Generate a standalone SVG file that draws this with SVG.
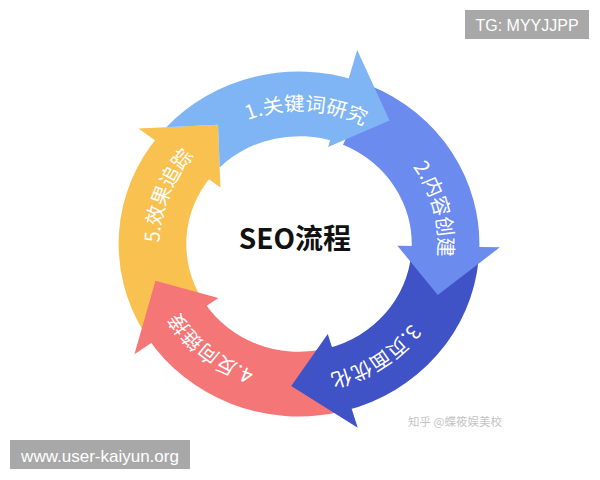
<svg xmlns="http://www.w3.org/2000/svg" xmlns:xlink="http://www.w3.org/1999/xlink" width="600" height="480" viewBox="0 0 600 480">
  <style>
    .lbl { fill: #ffffff; font-family: "Noto Sans CJK SC", "Noto Sans", sans-serif; font-size: 20px; }
    .c1 { fill: #7fb5f5; }
    .c2 { fill: #6b8bef; }
    .c3 { fill: #3f52c6; }
    .c4 { fill: #f47677; }
    .c5 { fill: #f8c150; }
    .tag { fill: #a8a8a8; }
    .tagtxt { fill: #ffffff; font-family: "Liberation Sans", Arial, sans-serif; }
  </style>
  <defs>
    <path id="arrow" d="M -163.18 -65.93 A 176 176 0 0 1 6.14 -175.89 L 3.84 -109.93 A 110 110 0 0 0 -101.99 -41.21 Z M 0 -196 L 49.59 -136.26 L 0 -96 Z"/>
    <path id="arrowNotched" d="M -161.23 -70.59 A 176 176 0 0 1 0 -176 L 0 -110 A 110 110 0 0 0 -98.63 -48.70 L -114.27 -89.27 Z M -10.78 -205.72 L 42.45 -148.03 L -5.39 -102.86 Z"/>
    <path id="lblPath" d="M -134.33 -21.27 A 136 136 0 0 1 102.64 -89.22" fill="none"/>
  </defs>
  <rect width="600" height="480" fill="#ffffff"/>
  <g id="ring" transform="translate(299,244) scale(1.025,0.98)">
    <g id="node5" transform="rotate(307)">
      <use xlink:href="#arrow" href="#arrow" class="c5"/>
      <text class="lbl"><textPath xlink:href="#lblPath" href="#lblPath" startOffset="50%" text-anchor="middle">5.效果追踪</textPath></text>
    </g>
    <g id="node4" transform="rotate(235)">
      <use xlink:href="#arrow" href="#arrow" class="c4"/>
      <text class="lbl"><textPath xlink:href="#lblPath" href="#lblPath" startOffset="50%" text-anchor="middle">4.反向链接</textPath></text>
    </g>
    <g id="node3" transform="rotate(163)">
      <use xlink:href="#arrow" href="#arrow" class="c3"/>
      <text class="lbl"><textPath xlink:href="#lblPath" href="#lblPath" startOffset="50%" text-anchor="middle">3.页面优化</textPath></text>
    </g>
    <g id="node2" transform="rotate(91)">
      <use xlink:href="#arrow" href="#arrow" class="c2"/>
      <text class="lbl"><textPath xlink:href="#lblPath" href="#lblPath" startOffset="50%" text-anchor="middle">2.内容创建</textPath></text>
    </g>
    <g id="node1" transform="rotate(19)">
      <use xlink:href="#arrowNotched" href="#arrowNotched" class="c1"/>
      <text class="lbl"><textPath xlink:href="#lblPath" href="#lblPath" startOffset="50%" text-anchor="middle">1.关键词研究</textPath></text>
    </g>
  </g>
  <g id="connectors"></g>
  <g id="title">
    <text x="295" y="249" text-anchor="middle" font-family="'Noto Sans CJK SC', 'Noto Sans', sans-serif" font-size="28" font-weight="bold" fill="#111111">SEO流程</text>
  </g>
  <text x="455" y="426" text-anchor="middle" font-family="'Noto Sans CJK SC', sans-serif" font-size="11.5" fill="#c4c4c4">知乎 @蝶筱娱美校</text>
  <g id="tag-top">
    <rect class="tag" x="465" y="10" width="124" height="29"/>
    <text class="tagtxt" x="527" y="31" text-anchor="middle" font-size="16">TG: MYYJJPP</text>
  </g>
  <g id="tag-bottom">
    <rect class="tag" x="10" y="440" width="180" height="29"/>
    <text class="tagtxt" x="100" y="462" text-anchor="middle" font-size="17">www.user-kaiyun.org</text>
  </g>
</svg>
